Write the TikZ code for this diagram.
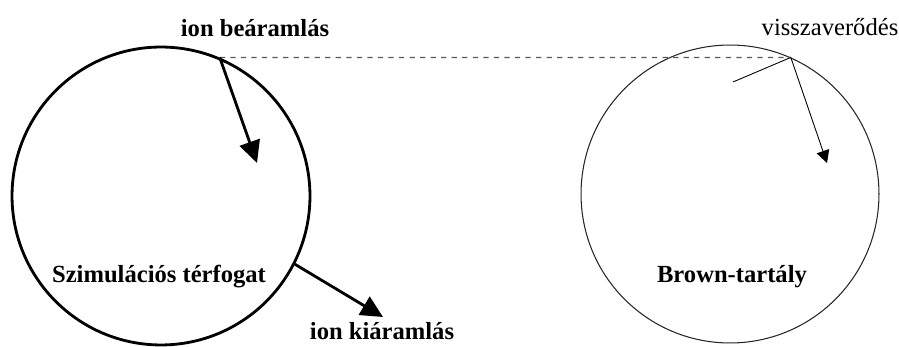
\documentclass[tikz,border=0pt]{standalone}
\usepackage{fontspec}
\setmainfont{Liberation Serif}
\usetikzlibrary{positioning, arrows.meta, calc}

\begin{document}
\begin{tikzpicture}[
        x=0.02cm, y=-0.02cm,
        % Style for the two regions
        region/.style={
            draw,
            circle,
            minimum size=5.96cm,
            inner sep=0pt
        },
        % Style for the bold labels
        boldlabel/.style={
            font=\fontsize{14}{16}\selectfont\bfseries,
            inner sep=0pt
        },
        % Style for the ion paths
        ionpath/.style={
            -{Triangle[length=0.44cm, width=0.42cm]},
            line width=1.6pt
        },
        brownpath/.style={
            -{Triangle[length=0.25cm, width=0.26cm]},
            line width=0.5pt
        }
    ]
    \useasboundingbox (0,0) rectangle (899,347);

    % ==========================================
    % REGIONS
    % ==========================================
    \node[region, line width=1.6pt] (sim) at (161,196) {};
    \node[region, line width=0.6pt, draw=black!85] (brown) at (730,194) {};

    \node[boldlabel] (simlabel) at (159,277) {Szimulációs térfogat};
    \node[boldlabel] (brownlabel) at (732,277) {Brown-tartály};

    % Entry and exit points on the boundary
    \coordinate (entry) at (sim.67);
    \coordinate (exit) at (sim.-27.5);
    \coordinate (bounce) at (brown.66);

    % Arrow tips
    \coordinate (inTip) at (257,163);
    \coordinate (outTip) at (383,317);
    \coordinate (backTip) at (827,163);
    \coordinate (reflEnd) at (733,82);

    % ==========================================
    % PATHS
    % ==========================================
    \draw[dashed, black!65, line width=0.7pt] (entry) -- (bounce);
    \draw[ionpath] (entry) -- (inTip);
    \draw[ionpath] (exit) -- (outTip);
    \draw[line width=0.5pt] (bounce) -- (reflEnd);
    \draw[brownpath] (bounce) -- (backTip);

    \node[boldlabel] (inlabel) at (255,28) {ion beáramlás};
    \node[boldlabel] (outlabel) at (382,331) {ion kiáramlás};
    \node[font=\fontsize{14}{16}\selectfont, inner sep=0pt] (refllabel) at (830,27) {visszaverődés};

\end{tikzpicture}
\end{document}
